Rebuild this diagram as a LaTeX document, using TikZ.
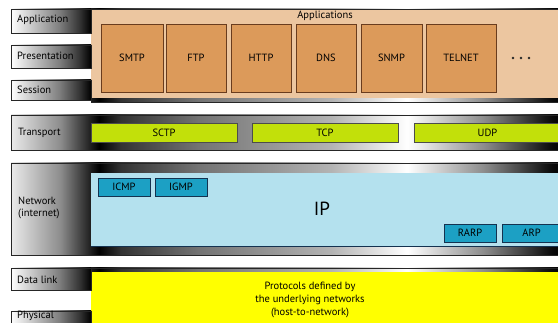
\documentclass[tikz,border=0pt]{standalone}
\usepackage{fontspec}
\setmainfont{PT Sans}
\usetikzlibrary{shadings}

\definecolor{beige}{RGB}{236,198,160}
\definecolor{appbox}{RGB}{220,154,90}
\definecolor{appedge}{RGB}{105,60,30}
\definecolor{lime}{RGB}{194,224,10}
\definecolor{ipblue}{RGB}{180,225,238}
\definecolor{icmpbox}{RGB}{28,160,196}
\definecolor{icmpedge}{RGB}{20,50,80}
\definecolor{linkyellow}{RGB}{255,255,0}

% metallic gradient across a whole layer band
\pgfdeclarehorizontalshading{bandshade}{100bp}{%
  color(0bp)=(white);
  color(25bp)=(black!8);
  color(29.5bp)=(black!45);
  color(33bp)=(black);
  color(35bp)=(black!80);
  color(42bp)=(black!55);
  color(54bp)=(black!30);
  color(61bp)=(white);
  color(68bp)=(black!45);
  color(74bp)=(black!95);
  color(75bp)=(black);
  color(100bp)=(black)}

% light-to-dark gradient of the layer name tabs
\pgfdeclarehorizontalshading{tabshade}{100bp}{%
  color(0bp)=(white);
  color(25bp)=(white);
  color(40bp)=(black!25);
  color(55bp)=(black!50);
  color(68bp)=(black!80);
  color(75bp)=(black);
  color(100bp)=(black)}

\tikzset{
  band/.style={shading=bandshade, draw=black!85, line width=0.8pt},
  tab/.style={shading=tabshade, draw=black!85, line width=0.8pt},
  lbl/.style={anchor=west, font=\fontsize{10.5}{12}\selectfont, inner sep=0pt},
  appproto/.style={draw=appedge, fill=appbox, line width=0.7pt},
  tproto/.style={draw=black!70, fill=lime, line width=0.7pt},
  nproto/.style={draw=icmpedge, fill=icmpbox, line width=0.7pt},
  ptext/.style={font=\fontsize{10.5}{12}\selectfont, inner sep=0pt},
}

\begin{document}
\begin{tikzpicture}[x=1pt, y=-1pt]
\useasboundingbox (0,0) rectangle (558,323);
\fill[white] (0,0) rectangle (558,323);

% ---------- application / presentation / session ----------
\shade[band] (11,9) rectangle (561,102);
\fill[white] (0,0) rectangle (91,104);
\fill[beige] (91,9.4) rectangle (561,98);
\draw[black!85, line width=0.8pt] (91,9) -- (561,9);
\shade[tab] (11,9) rectangle (91,33);
\shade[tab] (11,45) rectangle (91,68);
\shade[tab] (11,80) rectangle (91,100);
\node[lbl] (lapp) at (17,20) {Application};
\node[lbl] (lpre) at (17,56) {Presentation};
\node[lbl] (lses) at (17,90) {Session};
\node[ptext] (apps) at (325,16) {Applications};

\draw[appproto] (101,24) rectangle node[ptext] (smtp) {SMTP} (163,92);
\draw[appproto] (166,24) rectangle node[ptext] (ftp) {FTP} (226,92);
\draw[appproto] (231,24) rectangle node[ptext] (http) {HTTP} (291,92);
\draw[appproto] (296,24) rectangle node[ptext] (dns) {DNS} (356,92);
\draw[appproto] (361,24) rectangle node[ptext] (snmp) {SNMP} (422,92);
\draw[appproto] (426,24) rectangle node[ptext] (telnet) {TELNET} (496,92);
\node[inner sep=0pt] (more) at (521,58)
  {\tikz[x=1pt,y=1pt]{\foreach \i in {0,8,16} \fill[black!85] (\i,0) circle (1.3);}};

% ---------- transport ----------
\shade[band] (11,115) rectangle (561,150);
\node[lbl] (ltra) at (18,133) {Transport};
\draw[tproto] (91,123) rectangle node[ptext] (sctp) {SCTP} (237,142);
\draw[tproto] (252,123) rectangle node[ptext] (tcp) {TCP} (398,142);
\draw[tproto] (414,123) rectangle node[ptext] (udp) {UDP} (561,142);

% ---------- network ----------
\shade[band] (11,163) rectangle (561,255);
\fill[ipblue] (91,173) rectangle (561,246);
\draw[icmpedge, line width=0.6pt] (91,246) -- (561,246);
\node[lbl, align=left, font=\fontsize{10.5}{12.5}\selectfont] (lnet) at (18,208) {Network\\(internet)};
\node[font=\fontsize{19}{20}\selectfont, inner sep=0pt] (ip) at (322,209) {IP};
\draw[nproto] (98,178) rectangle node[ptext] (icmp) {ICMP} (150,196);
\draw[nproto] (155,178) rectangle node[ptext] (igmp) {IGMP} (207,196);
\draw[nproto] (444,224) rectangle node[ptext] (rarp) {RARP} (496,242);
\draw[nproto] (502,224) rectangle node[ptext] (arp) {ARP} (561,242);

% ---------- data link / physical ----------
\shade[band] (11,268) rectangle (561,330);
\fill[white] (0,262) rectangle (91,330);
\fill[linkyellow] (91,272) rectangle (561,330);
\shade[tab] (11,268) rectangle (91,290);
\shade[tab] (11,311) rectangle (91,330);
\node[lbl] (ldl) at (17,280) {Data link};
\node[lbl] (lphy) at (17,316) {Physical};
\node[ptext, align=center, font=\fontsize{10.5}{13.3}\selectfont] (hostnet) at (310,300)
  {Protocols defined by\\the underlying networks\\(host-to-network)};
\end{tikzpicture}
\end{document}
